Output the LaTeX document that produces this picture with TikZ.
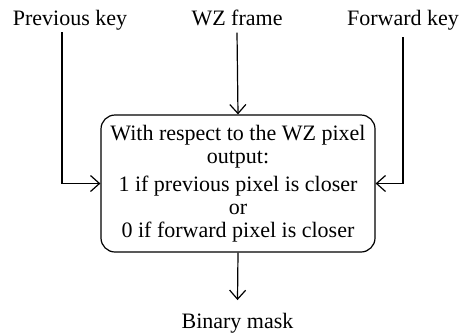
\documentclass[tikz,border=0pt]{standalone}
\usepackage{fontspec}
\setmainfont{Liberation Serif}
\usetikzlibrary{arrows.meta}

\begin{document}
\begin{tikzpicture}[x=0.5pt,y=-0.5pt,->,>={Straight Barb[length=4.5pt,width=8pt]},line width=0.6pt,font=\fontsize{11}{11.5}\selectfont]
                \useasboundingbox (0,0) rectangle (465,333);
                \node[anchor=base] (prevKey) at (70,25) {Previous key};
                \node[anchor=base] (wzFrame) at (237,25) {WZ frame};
                \node[anchor=base] (fwdKey) at (403,25) {Forward key};
                \coordinate (prevStart) at (62,32);
                \node[draw,rounded corners=7pt,minimum width=137pt,minimum height=68.5pt,align=center,inner sep=0pt] (maskBox) at (238,183.5)
                    {With respect to the WZ pixel\\ output:\\[2.5pt] 1 if previous pixel is closer\\ or\\ 0 if forward pixel is closer};
                \node[anchor=base,outer sep=3pt] (binMask) at (237.5,328) {Binary mask};
                \draw (prevStart) |- (maskBox.west);
                \draw (wzFrame.south) -- (maskBox.north);
                \draw (fwdKey.south) |- (maskBox.east);
                \draw (maskBox.south) -- (binMask.north);
            \end{tikzpicture}
\end{document}
